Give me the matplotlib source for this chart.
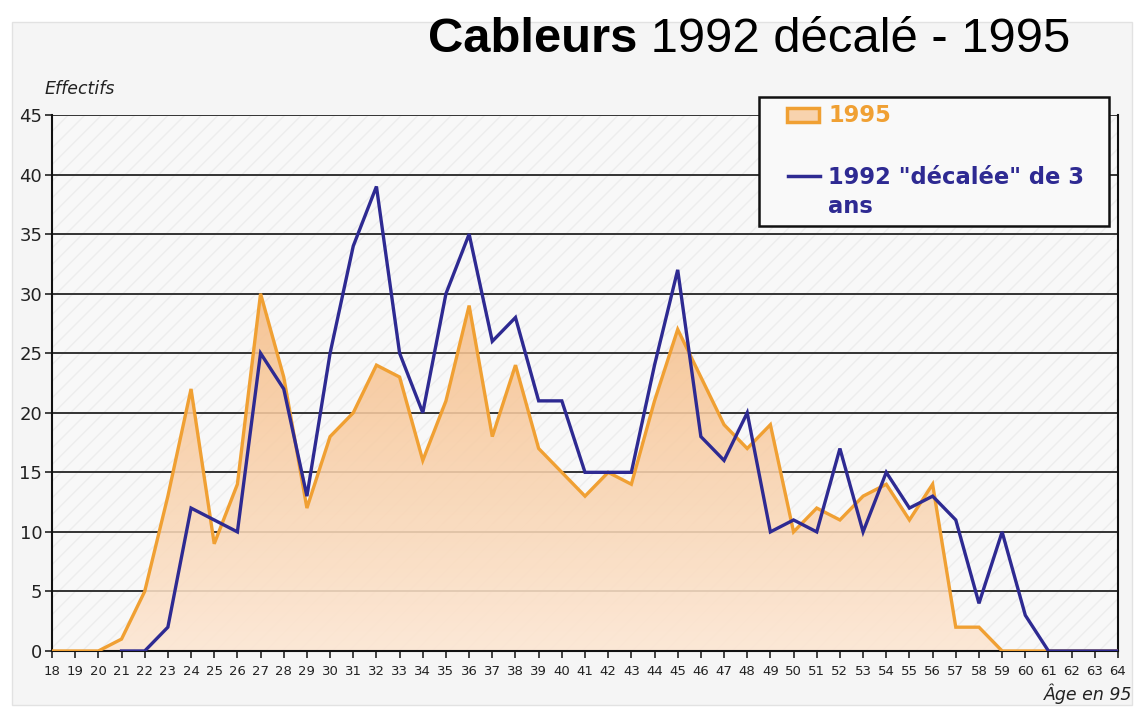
import matplotlib.pyplot as plt
import numpy as np
from matplotlib.patches import Rectangle
from matplotlib.lines import Line2D
from matplotlib.colors import LinearSegmentedColormap

# donnees
ages = list(range(18, 65))
eff_1995 = [0, 0, 0, 1, 5, 13, 22, 9, 14, 30, 23, 12, 18, 20, 24, 23, 16, 21, 29, 18,
            24, 17, 15, 13, 15, 14, 21, 27, 23, 19, 17, 19, 10, 12, 11, 13, 14, 11, 14,
            2, 2, 0, 0, 0, 0, 0, 0]
eff_1992 = [np.nan, np.nan, np.nan, 0, 0, 2, 12, 11, 10, 25, 22, 13, 25, 34, 39, 25, 20,
            30, 35, 26, 28, 21, 21, 15, 15, 15, 24, 32, 18, 16, 20, 10, 11, 10, 17, 10,
            15, 12, 13, 11, 4, 10, 3, 0, 0, 0, 0]
yticks = list(range(0, 50, 5))
labels = ['1995', '1992 "décalée" de 3\nans']

orange = '#f0a033'
bleu = '#2e2a92'
W, H = 1137, 707

def fx(px):
    return px / W

def fy(py):  # pixels depuis le haut
    return 1 - py / H

fig = plt.figure(figsize=(11.37, 7.07), dpi=100, facecolor='white')
# panneau gris clair
fig.patches.append(Rectangle((fx(12), fy(705)), fx(1120), 683/H, transform=fig.transFigure,
                             facecolor='#f5f5f5', edgecolor='#e2e2e2', lw=1, zorder=-10))

ax = fig.add_axes([fx(52), fy(651), fx(1066), 536/H])
ax.set_facecolor('#f8f8f8')
ax.add_patch(Rectangle((18, 0), 46, 45, facecolor='none', edgecolor='#ededed',
                       hatch='//', lw=0, zorder=0))

for v in yticks[1:]:
    ax.axhline(v, color='#333333', lw=1.4, zorder=1)

# remplissage en degrade pour 1995
poly = ax.fill_between(ages, eff_1995, 0, color='none', lw=0)
cmap = LinearSegmentedColormap.from_list('o', ['#fde6d2', '#f5bd86'])
grad = np.linspace(0, 1, 256).reshape(-1, 1)
im = ax.imshow(grad, extent=[18, 64, 0, 31], origin='lower', aspect='auto', cmap=cmap,
               alpha=0.88, zorder=2)
im.set_clip_path(poly.get_paths()[0], transform=ax.transData)

ax.plot(ages, eff_1995, color=orange, lw=2.4, zorder=3, solid_joinstyle='miter')
ax.plot(ages, eff_1992, color=bleu, lw=2.4, zorder=4, solid_joinstyle='miter')

ax.set_xlim(18, 64)
ax.set_ylim(0, 45)
ax.set_xticks(ages)
ax.set_xticklabels([str(a) for a in ages], fontsize=9.5, color='#222222')
ax.set_yticks(yticks)
ax.set_yticklabels([str(v) for v in yticks], fontsize=13, color='#222222')
ax.tick_params(axis='x', length=5, width=1.2, color='#222222', pad=5)
ax.tick_params(axis='y', length=5, width=1.2, color='#222222', pad=2)
for s in ['left', 'bottom', 'right']:
    ax.spines[s].set_color('#111111')
    ax.spines[s].set_linewidth(1.5)
ax.spines['top'].set_visible(False)

fig.text(fx(45), fy(89), 'Effectifs', fontsize=12.5, style='italic', va='center',
         color='#222222')
fig.text(fx(1132), fy(694), 'Âge en 95', fontsize=12.5, style='italic', va='center',
         ha='right', color='#222222')

# titre
t1 = fig.text(fx(428), fy(62), 'Cableurs', fontsize=35.3, fontweight='bold',
              family='Liberation Sans', va='bottom')
ax.annotate(' 1992 décalé - 1995', xy=(1, 0), xycoords=t1, fontsize=35.3,
            family='Liberation Sans', va='bottom', ha='left', annotation_clip=False)

# legende dessinee a la main
fig.patches.append(Rectangle((fx(759), fy(226)), fx(350), 129/H, transform=fig.transFigure,
                             facecolor='#f9f9f9', edgecolor='#111111', lw=1.8, zorder=5))
fig.patches.append(Rectangle((fx(787), fy(122)), fx(32), 14/H, transform=fig.transFigure,
                             facecolor='#f8d3ae', edgecolor=orange, lw=2.5, zorder=6))
fig.lines.append(Line2D([fx(788), fx(820)], [fy(176), fy(176)], transform=fig.transFigure,
                        color=bleu, lw=2.5, zorder=6))
fig.text(fx(828), fy(116), labels[0], fontsize=16.3, fontweight='bold', color=orange,
         va='center', zorder=7)
fig.text(fx(828), fy(166), labels[1], fontsize=16.3, fontweight='bold', color=bleu,
         va='top', linespacing=1.36, zorder=7)

plt.savefig('out.png', dpi=100, facecolor=fig.get_facecolor())
